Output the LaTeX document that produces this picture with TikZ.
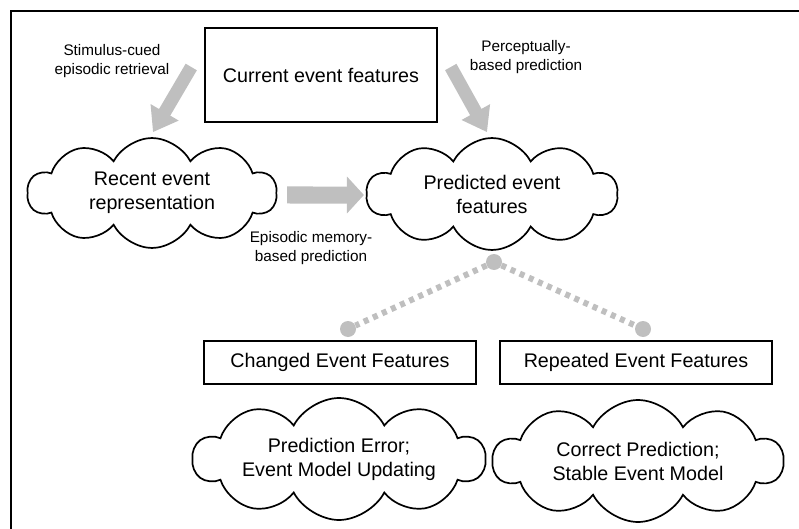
\documentclass[tikz,border=0pt]{standalone}
\usepackage{fontspec}
\setmainfont{Liberation Sans}
\usetikzlibrary{shapes.symbols,arrows.meta}

\tikzset{
	feat/.style={draw, line width=1.5pt, align=center, font=\fontsize{19.7}{24}\selectfont},
	thought/.style={cloud, cloud puffs=10, cloud puff arc=125, cloud ignores aspect, inner sep=0pt, draw, line width=1.7pt, align=center, font=\fontsize{19.7}{24}\selectfont},
	lbl/.style={align=center, font=\fontsize{15.3}{18.5}\selectfont},
	fat/.style={draw=gray!50, line width=13pt, -{Triangle[width=31pt,length=23pt]}},
	knob/.style={circle, fill=gray!50, inner sep=0pt, minimum size=16pt},
	link/.style={draw=gray!50, line width=6pt, dash pattern=on 5pt off 5pt},
}

\begin{document}
\begin{tikzpicture}[x=1pt,y=-1pt]
	\useasboundingbox (0,0) rectangle (799,529);
	\draw[line width=2pt] (11,529) -- (11,11) -- (799,11);
	
	% top row
	\node[feat, minimum width=232pt, minimum height=94pt] (cur) at (321,75) {Current event features};
	\node[thought, minimum width=249pt, minimum height=110pt] (rec) at (152,193) {Recent event\\representation};
	\node[thought, minimum width=251pt, minimum height=112pt] (pred) at (492,194) {Predicted event\\features};
	
	\node[lbl] (cue) at (112,61) {Stimulus-cued\\episodic retrieval};
	\node[lbl] (perc) at (526,57) {Perceptually-\\based prediction};
	\node[lbl] (epi) at (311,248) {Episodic memory-\\based prediction};
	
	\draw[fat] ([shift={(-13,-8)}]cur.west) -- ([shift={(1,-5)}]rec.north);
	\draw[fat] ([shift={(13,-8)}]cur.east) -- ([shift={(-5,-5)}]pred.north);
	\draw[fat, line width=17pt, -{Triangle[width=36pt,length=17pt]}] ([shift={(10,2)}]rec.east) -- ([shift={(-2,1)}]pred.west);
	
	% split
	\node[knob] (d0) at (494,262) {};
	\node[knob] (d1) at (348,329) {};
	\node[knob] (d2) at (643,329) {};
	\draw[link] (d0) -- (d1);
	\draw[link] (d0) -- (d2);
	
	% bottom row
	\node[feat, minimum width=272pt, minimum height=43pt] (chg) at (340,362.5) {Changed Event Features};
	\node[feat, minimum width=272pt, minimum height=43pt] (rep) at (636,362.5) {Repeated Event Features};
	\node[thought, minimum width=292pt, minimum height=122pt] (err) at (339,459) {Prediction Error;\\Event Model Updating};
	\node[thought, minimum width=290pt, minimum height=122pt] (ok) at (638,461) {Correct Prediction;\\Stable Event Model};
\end{tikzpicture}
\end{document}
